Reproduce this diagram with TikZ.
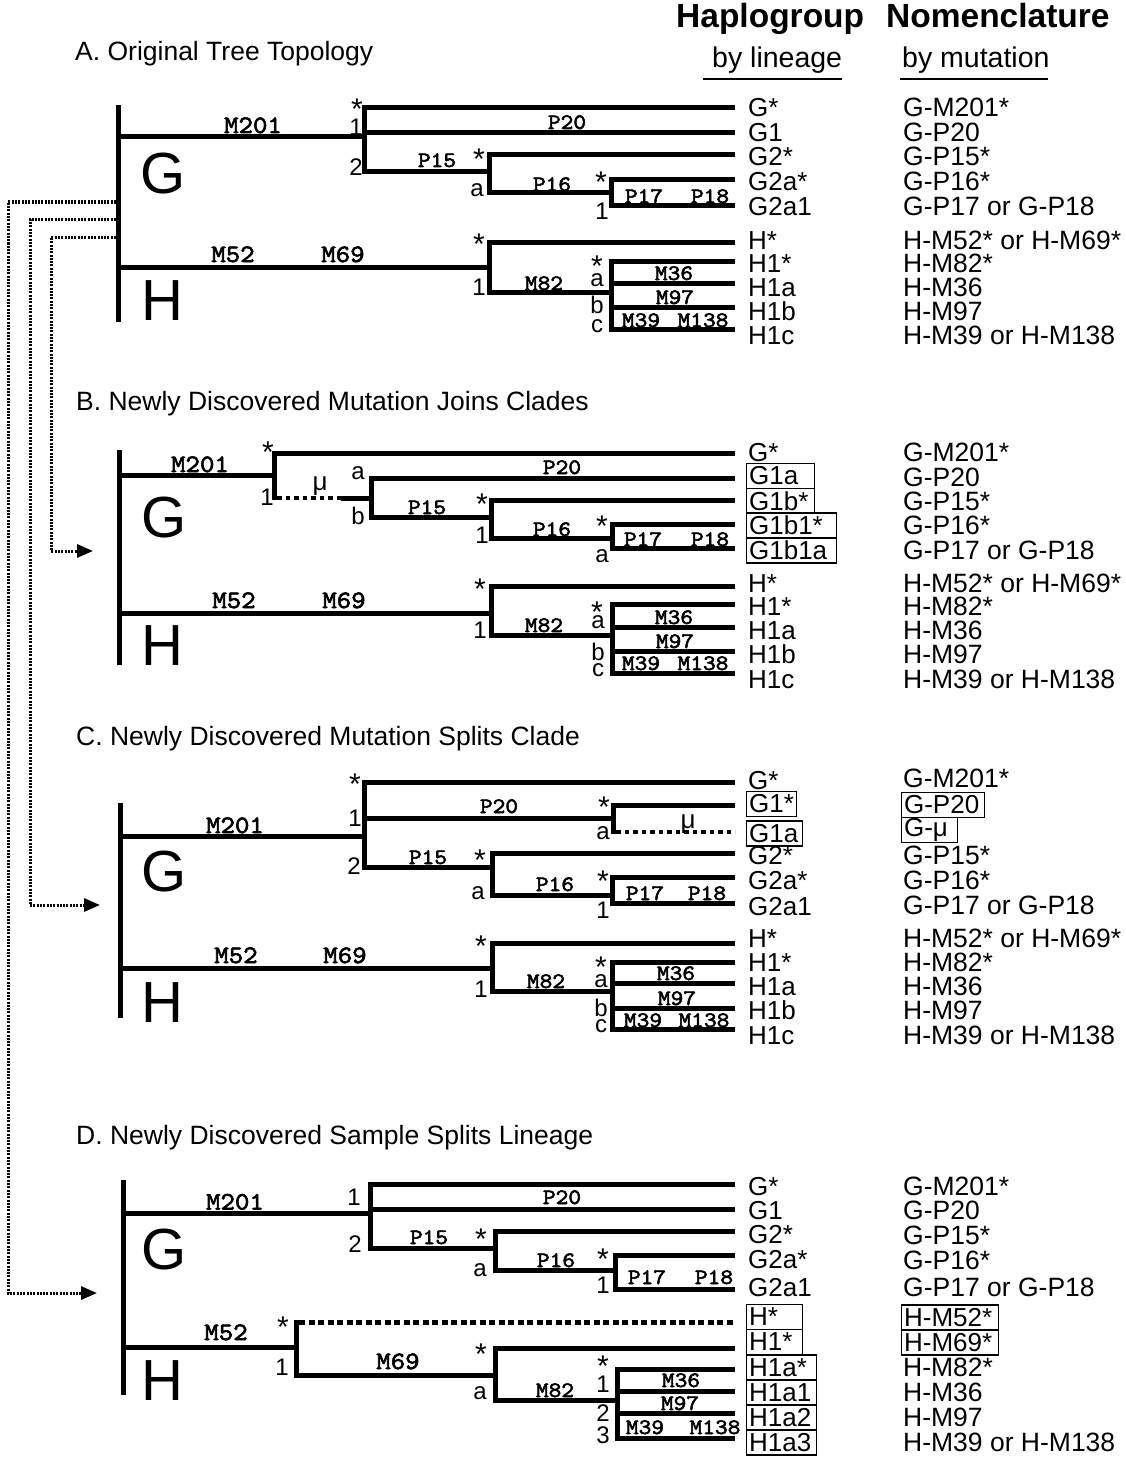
\documentclass[tikz,border=0pt]{standalone}
\usepackage{fontspec}
\setmainfont{Liberation Sans}
\newfontfamily\labf{lmmono10-regular.otf}[FakeStretch=1.1,FakeBold=2.5]
\usetikzlibrary{arrows.meta}
\newcounter{nid}
\newcommand\putl[3][]{\stepcounter{nid}\node[#1] (t\arabic{nid}) at (#2) {#3};}
\tikzset{
 br/.style={line width=5pt, line join=miter},
 mudots/.style={line width=4.5pt, dash pattern=on 4.5pt off 4pt},
 hdots/.style={line width=5pt, dash pattern=on 6pt off 3.5pt},
 conn/.style={line width=3pt, dash pattern=on 2pt off 1.3pt, -{Triangle[length=16pt,width=13pt]}},
 ml/.style={font=\labf\fontsize{22}{22}\selectfont, anchor=base, inner sep=0pt},
 ML/.style={font=\labf\fontsize{25}{25}\selectfont, anchor=base, inner sep=0pt},
 nd/.style={font=\fontsize{24}{24}\selectfont, inner sep=0pt},
 st/.style={font=\fontsize{30}{30}\selectfont, inner sep=0pt, anchor=north},
 mutxt/.style={font=\fontsize{26}{26}\selectfont, inner sep=0pt, anchor=base},
 leaf/.style={font=\fontsize{26}{26}\selectfont, anchor=base west, inner sep=0pt},
 codetxt/.style={font=\fontsize{26.5}{26.5}\selectfont, anchor=base west, inner sep=0pt},
 bx/.style={draw, line width=1.2pt, anchor=west, font=\fontsize{26}{26}\selectfont, minimum height=25pt, inner xsep=2.5pt, inner ysep=0pt, text width=#1, align=left},
 bigl/.style={font=\fontsize{58}{58}\selectfont, inner sep=0pt},
 ttl/.style={font=\fontsize{26.5}{26.5}\selectfont, anchor=base west, inner sep=0pt},
 hd/.style={font=\bfseries\fontsize{33.5}{33.5}\selectfont, anchor=base west, inner sep=0pt},
 sub/.style={font=\fontsize{28.5}{28.5}\selectfont, anchor=base west, inner sep=0pt},
}
\begin{document}
\begin{tikzpicture}[x=1pt,y=-1pt]
\useasboundingbox (0,0) rectangle (1126,1458);

% ---------- header ----------
\putl[hd]{676,28}{Haplogroup}
\putl[hd]{886,28}{Nomenclature}
\putl[sub]{712,68}{by lineage}
\putl[sub]{902,68}{by mutation}
\draw[line width=1.5pt] (703,79) -- (842,79);
\draw[line width=1.5pt] (900,79) -- (1048,79);

% ---------- titles ----------
\putl[ttl]{75,61}{A. Original Tree Topology}
\putl[ttl]{76,410}{B. Newly Discovered Mutation Joins Clades}
\putl[ttl]{76,745}{C. Newly Discovered Mutation Splits Clade}
\putl[ttl]{76,1144}{D. Newly Discovered Sample Splits Lineage}

% ---------- dotted connectors ----------
\coordinate (sD) at (116,202);
\coordinate (sC) at (116,219);
\coordinate (sB) at (116,237);
\coordinate (eD) at (97,1293);
\coordinate (eC) at (100,905);
\coordinate (eB) at (93,551);
\draw[conn] (sD) -- (8,202) |- (eD);
\draw[conn] (sC) -- (30,219) |- (eC);
\draw[conn] (sB) -- (51,237) |- (eB);

% ================= PANEL A =================
\draw[br] (118,105) -- (118,322);
\draw[br] (118,137) -- (364,137);
\draw[br] (735,108) -- (364,108) -- (364,172) -- (489,172);
\draw[br] (364,133) -- (735,133);
\draw[br] (735,155) -- (489,155) -- (489,193) -- (611,193);
\draw[br] (735,180) -- (611,180) -- (611,205) -- (735,205);
\draw[br] (118,267) -- (489,267);
\draw[br] (735,242) -- (489,242) -- (489,292) -- (611,292);
\draw[br] (735,261) -- (611,261) -- (611,329) -- (735,329);
\draw[br] (611,283) -- (735,283);
\draw[br] (611,307) -- (735,307);
\putl[ML]{253,133}{M201}
\putl[ML]{233,262}{M52}
\putl[ML]{343,262}{M69}
\putl[ml]{567,129}{P20}
\putl[ml]{437,167}{P15}
\putl[ml]{552,191}{P16}
\putl[ml]{644,203}{P17}
\putl[ml]{710,203}{P18}
\putl[ml]{544,290}{M82}
\putl[ml]{674,280}{M36}
\putl[ml]{675,304}{M97}
\putl[ml]{641,327}{M39}
\putl[ml]{703,327}{M138}
\putl[st]{357,99}{*}
\putl[nd]{356,127}{1}
\putl[nd]{356,167}{2}
\putl[st]{479,149}{*}
\putl[nd]{477,190}{a}
\putl[st]{601,172}{*}
\putl[nd]{602,211}{1}
\putl[st]{479,234}{*}
\putl[nd]{479,287}{1}
\putl[st]{597,256}{*}
\putl[nd]{597,280}{a}
\putl[nd]{597,305}{b}
\putl[nd]{597,326}{c}
\putl[bigl]{163,174}{G}
\putl[bigl]{162,301}{H}
\foreach \y/\a/\b in {107/G*/G-M201*,132/G1/G-P20,156/G2*/G-P15*,181/G2a*/G-P16*,206/G2a1/G-P17 or G-P18,240/H*/H-M52* or H-M69*,263/H1*/H-M82*,287/H1a/H-M36,311/H1b/H-M97,335/H1c/H-M39 or H-M138}{
  \putl[leaf]{748,\y+9.3}{\a}
  \putl[codetxt]{903,\y+9.3}{\b}
}

% ================= PANEL B =================
\draw[br] (119,450) -- (119,665);
\draw[br] (119,475) -- (274,475);
\draw[br] (735,453) -- (274,453) -- (274,500);
\draw[mudots] (277,498) -- (341,498);
\draw[br] (341,498) -- (371,498);
\draw[br] (735,478) -- (371,478) -- (371,517) -- (491,517);
\draw[br] (735,500) -- (491,500) -- (491,538) -- (612,538);
\draw[br] (735,524) -- (612,524) -- (612,548) -- (735,548);
\draw[br] (119,613) -- (491,613);
\draw[br] (735,586) -- (491,586) -- (491,635) -- (612,635);
\draw[br] (735,604) -- (612,604) -- (612,673) -- (735,673);
\draw[br] (612,627) -- (735,627);
\draw[br] (612,651) -- (735,651);
\putl[ML]{200,472}{M201}
\putl[mutxt]{320,490}{μ}
\putl[ML]{234,608}{M52}
\putl[ML]{344,608}{M69}
\putl[ml]{562,474}{P20}
\putl[ml]{427,514}{P15}
\putl[ml]{552,536}{P16}
\putl[ml]{643,546}{P17}
\putl[ml]{710,546}{P18}
\putl[ml]{544,632}{M82}
\putl[ml]{674,624}{M36}
\putl[ml]{675,648}{M97}
\putl[ml]{641,670}{M39}
\putl[ml]{703,670}{M138}
\putl[st]{268,442}{*}
\putl[nd]{267,497}{1}
\putl[nd]{358,473}{a}
\putl[nd]{358,516}{b}
\putl[st]{482,494}{*}
\putl[nd]{482,535}{1}
\putl[st]{602,516}{*}
\putl[nd]{602,556}{a}
\putl[st]{480,579}{*}
\putl[nd]{480,630}{1}
\putl[st]{597,602}{*}
\putl[nd]{598,622}{a}
\putl[nd]{598,652}{b}
\putl[nd]{598,670}{c}
\putl[bigl]{164,518}{G}
\putl[bigl]{162,646}{H}
\putl[leaf]{748,461.3}{G*}
\putl[bx=63pt]{746,476}{G1a}
\putl[bx=63pt]{746,501}{G1b*}
\putl[bx=85pt]{746,525.5}{G1b1*}
\putl[bx=85pt]{746,550.5}{G1b1a}
\foreach \y/\a in {583/H*,606/H1*,630/H1a,654/H1b,679/H1c}{
  \putl[leaf]{748,\y+9.3}{\a}
}
\foreach \y/\b in {452/G-M201*,477/G-P20,501/G-P15*,525/G-P16*,550/G-P17 or G-P18,583/H-M52* or H-M69*,606/H-M82*,630/H-M36,654/H-M97,679/H-M39 or H-M138}{
  \putl[codetxt]{903,\y+9.3}{\b}
}

% ================= PANEL C =================
\draw[br] (120,803) -- (120,1018);
\draw[br] (120,836) -- (364,836);
\draw[br] (735,782) -- (364,782) -- (364,867) -- (492,867);
\draw[br] (364,818) -- (613,818);
\draw[br] (735,805) -- (613,805) -- (613,834);
\draw[mudots] (616,832) -- (735,832);
\draw[br] (735,853) -- (492,853) -- (492,895) -- (612,895);
\draw[br] (735,877) -- (612,877) -- (612,903) -- (735,903);
\draw[br] (120,968) -- (492,968);
\draw[br] (735,943) -- (492,943) -- (492,991) -- (612,991);
\draw[br] (735,962) -- (612,962) -- (612,1029) -- (735,1029);
\draw[br] (612,983) -- (735,983);
\draw[br] (612,1008) -- (735,1008);
\putl[ML]{235,833}{M201}
\putl[ml]{499,813}{P20}
\putl[mutxt]{688,828}{μ}
\putl[ml]{428,864}{P15}
\putl[ml]{555,891}{P16}
\putl[ml]{645,900}{P17}
\putl[ml]{707,900}{P18}
\putl[ML]{236,963}{M52}
\putl[ML]{345,963}{M69}
\putl[ml]{546,988}{M82}
\putl[ml]{676,980}{M36}
\putl[ml]{677,1005}{M97}
\putl[ml]{643,1027}{M39}
\putl[ml]{704,1027}{M138}
\putl[st]{355,774}{*}
\putl[nd]{355,818}{1}
\putl[nd]{354,866}{2}
\putl[st]{604,797}{*}
\putl[nd]{603,833}{a}
\putl[st]{480,850}{*}
\putl[nd]{478,893}{a}
\putl[st]{603,871}{*}
\putl[nd]{603,910}{1}
\putl[st]{481,936}{*}
\putl[nd]{481,989}{1}
\putl[st]{601,957}{*}
\putl[nd]{601,981}{a}
\putl[nd]{601,1008}{b}
\putl[nd]{601,1026}{c}
\putl[bigl]{164,872}{G}
\putl[bigl]{162,1003}{H}
\putl[leaf]{748,789.3}{G*}
\putl[bx=45pt]{746,804}{G1*}
\putl[bx=51pt]{746,833.5}{G1a}
\foreach \y/\a in {855/G2*,880/G2a*,906/G2a1,938/H*,962/H1*,986/H1a,1010/H1b,1035/H1c}{
  \putl[leaf]{748,\y+9.3}{\a}
}
\putl[codetxt]{903,787.3}{G-M201*}
\putl[bx=78pt]{901,805}{G-P20}
\putl[bx=51pt]{901,830}{G-μ}
\foreach \y/\b in {855/G-P15*,880/G-P16*,905/G-P17 or G-P18,938/H-M52* or H-M69*,962/H-M82*,986/H-M36,1010/H-M97,1035/H-M39 or H-M138}{
  \putl[codetxt]{903,\y+9.3}{\b}
}

% ================= PANEL D =================
\draw[br] (123,1180) -- (123,1395);
\draw[br] (123,1213) -- (370,1213);
\draw[br] (735,1184) -- (370,1184) -- (370,1248) -- (495,1248);
\draw[br] (370,1209) -- (735,1209);
\draw[br] (735,1231) -- (495,1231) -- (495,1270) -- (615,1270);
\draw[br] (735,1255) -- (615,1255) -- (615,1289) -- (735,1289);
\draw[br] (123,1347) -- (296,1347);
\draw[hdots] (299,1322) -- (735,1322);
\draw[br] (296,1320) -- (296,1375) -- (495,1375);
\draw[br] (735,1348) -- (495,1348) -- (495,1400) -- (617,1400);
\draw[br] (735,1369) -- (617,1369) -- (617,1438) -- (735,1438);
\draw[br] (617,1391) -- (735,1391);
\draw[br] (617,1413) -- (735,1413);
\putl[ML]{235,1209.5}{M201}
\putl[ml]{562,1204}{P20}
\putl[ml]{429,1244}{P15}
\putl[ml]{556,1267}{P16}
\putl[ml]{647,1284}{P17}
\putl[ml]{714,1284}{P18}
\putl[ML]{226,1340}{M52}
\putl[ML]{398,1369}{M69}
\putl[ml]{555,1397}{M82}
\putl[ml]{681,1387}{M36}
\putl[ml]{680,1410}{M97}
\putl[ml]{645,1434}{M39}
\putl[ml]{715,1434}{M138}
\putl[nd]{354,1197}{1}
\putl[nd]{355,1244}{2}
\putl[st]{481,1229}{*}
\putl[nd]{480,1270}{a}
\putl[st]{603,1249}{*}
\putl[nd]{603,1285}{1}
\putl[st]{283,1317}{*}
\putl[nd]{282,1367}{1}
\putl[st]{481,1344}{*}
\putl[nd]{480,1393}{a}
\putl[st]{603,1356}{*}
\putl[nd]{603,1384}{1}
\putl[nd]{603,1413}{2}
\putl[nd]{603,1435}{3}
\putl[bigl]{164,1250}{G}
\putl[bigl]{162,1381}{H}
\foreach \y/\a in {1186/G*,1210/G1,1234/G2*,1259/G2a*,1287/G2a1}{
  \putl[leaf]{748,\y+9.3}{\a}
}
\putl[bx=51pt]{746,1317}{H*}
\putl[bx=51pt]{746,1342}{H1*}
\putl[bx=65pt]{746,1367.5}{H1a*}
\putl[bx=65pt]{746,1392.5}{H1a1}
\putl[bx=65pt]{746,1417.5}{H1a2}
\putl[bx=65pt]{746,1442.5}{H1a3}
\foreach \y/\b in {1186/G-M201*,1210/G-P20,1235/G-P15*,1260/G-P16*,1287/G-P17 or G-P18,1367/H-M82*,1392/H-M36,1417/H-M97,1442/H-M39 or H-M138}{
  \putl[codetxt]{903,\y+9.3}{\b}
}
\putl[bx=92pt]{901,1317.5}{H-M52*}
\putl[bx=92pt]{901,1342.5}{H-M69*}
\end{tikzpicture}
\end{document}
